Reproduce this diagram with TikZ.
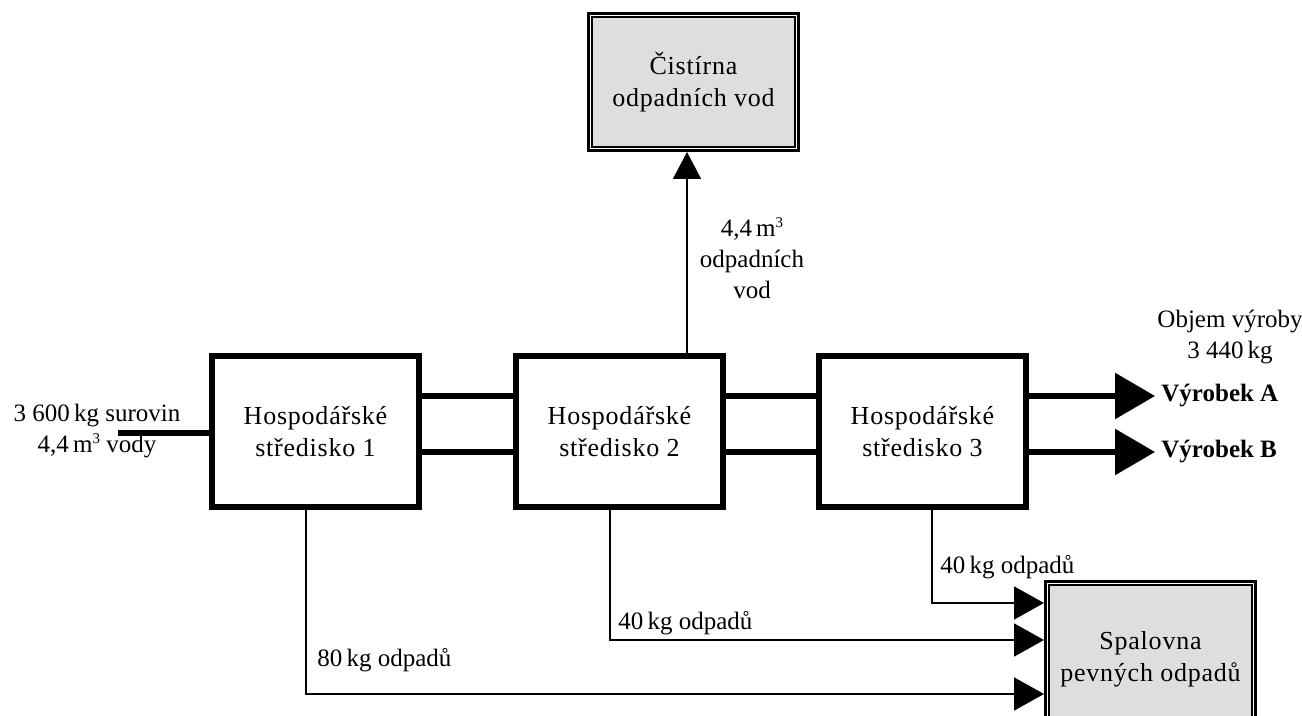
\documentclass[tikz,border=0pt]{standalone}
\usepackage{fontspec}
\setmainfont{Liberation Serif}
\usetikzlibrary{arrows.meta}
\newcommand{\cube}{\raisebox{0.75ex}{\fontsize{7.5}{7.5}\selectfont 3}}

\begin{document}
\begin{tikzpicture}[x=0.5pt,y=-0.5pt,
  every node/.style={font=\fontsize{12.5}{15.5}\selectfont},
  centre/.style={draw, line width=3pt, minimum width=103.5pt, minimum height=75.5pt, align=center, inner sep=0pt,
    font=\fontsize{13}{16}\selectfont\addfontfeature{LetterSpace=3}},
  plant/.style={centre, fill=black!13},
  flow/.style={line width=3pt},
  thinflow/.style={line width=0.9pt},
  bigtip/.style={-{Triangle[length=20pt,width=22.5pt]}},
  wastetip/.style={-{Triangle[length=15pt,width=16.5pt]}},
  watertip/.style={-{Triangle[length=13.5pt,width=14pt]}},
  flowtext/.style={inner sep=0pt, anchor=west},
  rim/.style={white, line width=0.6pt}]
\useasboundingbox (0,0) rectangle (1302,716);

% economic centres
\node[centre] (c1) at (315.5,431.5) {Hospodářské\\středisko 1};
\node[centre] (c2) at (619.5,431.5) {Hospodářské\\středisko 2};
\node[centre] (c3) at (922.5,431.5) {Hospodářské\\středisko 3};

% treatment plants
\node[plant, minimum height=67pt] (water) at (693.5,82) {Čistírna\\odpadních vod};
\node[plant] (burn) at (1150.5,659) {Spalovna\\pevných odpadů};
\draw[rim] ([shift={(1.6pt,-1.6pt)}]water.north west) rectangle ([shift={(-1.6pt,1.6pt)}]water.south east);
\draw[rim] ([shift={(1.6pt,-1.6pt)}]burn.north west) rectangle ([shift={(-1.6pt,1.6pt)}]burn.south east);

% levels of the connectors
\coordinate (in) at (118,433);
\coordinate (ya) at (0,396);
\coordinate (yb) at (0,452);
\coordinate (up) at (687,0);
\coordinate (w1) at (306,694);
\coordinate (w2) at (610,640);
\coordinate (w3) at (932,603);

% input
\node[align=center] (raw) at (97,431) {3 600\,kg surovin\\4,4\,m\cube{} vody};
\draw[flow] (in) -- (c1.west |- in);

% between the centres
\draw[flow] (c1.east |- ya) -- (c2.west |- ya);
\draw[flow] (c1.east |- yb) -- (c2.west |- yb);
\draw[flow] (c2.east |- ya) -- (c3.west |- ya);
\draw[flow] (c2.east |- yb) -- (c3.west |- yb);

% products
\node[flowtext, inner sep=3pt, font=\fontsize{12.5}{15.5}\selectfont\bfseries] (pa) at (1155,396) {Výrobek A};
\node[flowtext, inner sep=3pt, font=\fontsize{12.5}{15.5}\selectfont\bfseries] (pb) at (1155,452) {Výrobek B};
\node[align=center] (vol) at (1230,337) {Objem výroby\\3 440\,kg};
\draw[flow, bigtip] (c3.east |- ya) -- (pa.west);
\draw[flow, bigtip] (c3.east |- yb) -- (pb.west);

% waste water
\draw[thinflow, watertip] (c2.north -| up) -- (water.south -| up);
\node[align=center] (wl) at (752,258) {4,4\,m\cube\\odpadních\\vod};

% solid waste
\draw[thinflow, wastetip] (c1.south -| w1) |- (burn.west |- w1);
\draw[thinflow, wastetip] (c2.south -| w2) |- (burn.west |- w2);
\draw[thinflow, wastetip] (c3.south -| w3) |- (burn.west |- w3);
\node[flowtext] (t1) at (317,660) {80\,kg odpadů};
\node[flowtext] (t2) at (618,623) {40\,kg odpadů};
\node[flowtext] (t3) at (940,567) {40\,kg odpadů};
\end{tikzpicture}
\end{document}
